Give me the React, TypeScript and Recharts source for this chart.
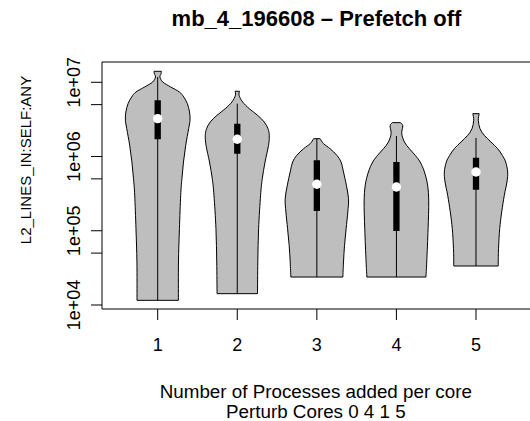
import React from 'react';
import { ComposedChart, XAxis, YAxis, Scatter, ReferenceArea, Label } from 'recharts';

const FONT = "'Liberation Sans', Arial, Helvetica, sans-serif";

const categories = [1, 2, 3, 4, 5];
const xTickLabels = ['1', '2', '3', '4', '5'];
const yTicks = [1e4, 5e4, 1e5, 5e5, 1e6, 5e6, 1e7];
const yTickLabels = ['1e+04', '', '1e+05', '', '1e+06', '', '1e+07'];

const titleText = 'mb_4_196608 \u2013 Prefetch off';
const xTitle1 = 'Number of Processes added per core';
const xTitle2 = 'Perturb Cores 0 4 1 5';
const yTitle = 'L2_LINES_IN:SELF:ANY';

// violin outlines: values (top -> bottom) and half widths (in category units)
const v1Values = [1.406e7, 1.3e7, 1.178e7, 1.009e7, 8.65e6, 7.4e6, 6.34e6, 5.15e6, 3.98e6, 3.08e6, 2.37e6, 1.416e6, 8.43e5, 5.02e5, 3.01e5, 1.067e5, 3.79e4, 1.156e4];
const v1Widths = [0.046, 0.042, 0.028, 0.063, 0.163, 0.273, 0.327, 0.373, 0.4, 0.406, 0.389, 0.352, 0.324, 0.304, 0.289, 0.273, 0.261, 0.26];

const v2Values = [7.57e6, 6.68e6, 5.43e6, 4.41e6, 3.59e6, 2.92e6, 2.37e6, 1.93e6, 1.416e6, 8.43e5, 5.02e5, 3.01e5, 1.067e5, 3.79e4, 1.42e4];
const v2Widths = [0.028, 0.023, 0.067, 0.151, 0.255, 0.339, 0.386, 0.402, 0.393, 0.349, 0.314, 0.293, 0.268, 0.258, 0.254];

const v3Values = [1.738e6, 1.489e6, 1.274e6, 1.04e6, 8.43e5, 6.19e5, 4.1e5, 2.7e5, 1.79e5, 1.067e5, 6.37e4, 3.79e4, 2.38e4];
const v3Widths = [0.041, 0.084, 0.167, 0.251, 0.304, 0.335, 0.371, 0.398, 0.389, 0.368, 0.348, 0.335, 0.327];

const v4Values = [2.86e6, 2.72e6, 2.5e6, 2.03e6, 1.571e6, 1.274e6, 1.04e6, 8.43e5, 6.19e5, 4.1e5, 2.44e5, 1.067e5, 3.79e4, 2.38e4];
const v4Widths = [0.05, 0.072, 0.079, 0.067, 0.1, 0.163, 0.236, 0.298, 0.352, 0.392, 0.406, 0.398, 0.381, 0.371];

const v5Values = [3.78e6, 3.08e6, 2.37e6, 1.93e6, 1.571e6, 1.274e6, 1.04e6, 8.43e5, 6.19e5, 4.54e5, 3.01e5, 1.79e5, 1.067e5, 5.73e4, 3.35e4];
const v5Widths = [0.04, 0.029, 0.05, 0.104, 0.188, 0.273, 0.33, 0.373, 0.398, 0.389, 0.356, 0.323, 0.298, 0.283, 0.279];

// box-plot summaries
const whiskerTops = [1.178e7, 5.15e6, 1.738e6, 1.89e6, 1.78e6];
const q3s = [5.73e6, 2.77e6, 8.89e5, 8.43e5, 9.64e5];
const medians = [3.24e6, 1.71e6, 4.23e5, 3.89e5, 6.19e5];
const q1s = [1.706e6, 1.09e6, 1.846e5, 9.93e4, 3.57e5];

const violinValues = [v1Values, v2Values, v3Values, v4Values, v5Values];
const violinWidths = [v1Widths, v2Widths, v3Widths, v4Widths, v5Widths];

const X_DOMAIN: [number, number] = [0.3, 5.7];
const Y_DOMAIN: [number, number] = [8830, 1.876e7];

type P = { x: number; y: number };

function sidePath(pts: P[], move: boolean) {
  let d = (move ? 'M' : 'L') + pts[0].x + ',' + pts[0].y;
  for (let i = 0; i < pts.length - 1; i++) {
    const p0 = pts[i - 1] || pts[i];
    const p1 = pts[i];
    const p2 = pts[i + 1];
    const p3 = pts[i + 2] || p2;
    const c1x = p1.x + (p2.x - p0.x) / 6;
    const c1y = p1.y + (p2.y - p0.y) / 6;
    const c2x = p2.x - (p3.x - p1.x) / 6;
    const c2y = p2.y - (p3.y - p1.y) / 6;
    d += 'C' + c1x + ',' + c1y + ' ' + c2x + ',' + c2y + ' ' + p2.x + ',' + p2.y;
  }
  return d;
}

const renderViolin = (n: number) => (props: any) => {
  const pts: P[] = props.points || [];
  if (pts.length < 2 * n) return <g />;
  const right = pts.slice(0, n);
  const left = pts.slice(n);
  const d = sidePath(right, true) + sidePath(left, false) + 'Z';
  return <path d={d} fill="#BEBEBE" stroke="#000" strokeWidth={1} strokeLinejoin="round" />;
};

const noShape = () => <g />;

const renderXTick = (props: any) => {
  const { x, y, payload } = props;
  const i = categories.indexOf(payload.value);
  return (
    <text x={x} y={y + 31} textAnchor="middle" fontFamily={FONT} fontSize={18} fill="#000">
      {i >= 0 ? xTickLabels[i] : ''}
    </text>
  );
};

const renderYTick = (props: any) => {
  const { x, y, payload } = props;
  const i = yTicks.indexOf(payload.value);
  const label = i >= 0 ? yTickLabels[i] : '';
  if (!label) return <g />;
  const bx = x - 11;
  return (
    <text x={bx} y={y} transform={`rotate(-90, ${bx}, ${y})`} textAnchor="middle" fontFamily={FONT} fontSize={18} fill="#000">
      {label}
    </text>
  );
};

const renderXLabel = (props: any) => {
  const vb = props.viewBox || {};
  const cx = vb.x + vb.width / 2;
  return (
    <g>
      <text x={cx - 1} y={397.5} textAnchor="middle" fontFamily={FONT} fontSize={18.8} fill="#000">{xTitle1}</text>
      <text x={cx - 1} y={418} textAnchor="middle" fontFamily={FONT} fontSize={18.8} fill="#000">{xTitle2}</text>
    </g>
  );
};

const renderYLabel = () => {
  const bx = 30.5;
  const cy = 160;
  return (
    <text x={bx} y={cy} transform={`rotate(-90, ${bx}, ${cy})`} textAnchor="middle" fontFamily={FONT} fontSize={15} fill="#000">
      {yTitle}
    </text>
  );
};

export default function App() {
  return (
    <div style={{ position: 'absolute', left: 0, top: 0, width: 530, height: 421, overflow: 'hidden', background: '#fff' }}>
      <ComposedChart width={534} height={421} margin={{ top: 62, right: 2.3, left: 42, bottom: 72 }}>
        <XAxis
          type="number"
          dataKey="x"
          domain={X_DOMAIN}
          ticks={categories}
          allowDataOverflow
          axisLine={false}
          tickSize={11}
          tickMargin={0}
          tickLine={{ stroke: '#000' }}
          tick={renderXTick}
          interval={0}
          height={40}
        >
          <Label content={renderXLabel} />
        </XAxis>
        <YAxis
          type="number"
          dataKey="y"
          scale="log"
          domain={Y_DOMAIN}
          ticks={yTicks}
          allowDataOverflow
          axisLine={false}
          tickSize={11}
          tickMargin={0}
          tickLine={{ stroke: '#000' }}
          tick={renderYTick}
          interval={0}
          width={60}
        >
          <Label content={renderYLabel} />
        </YAxis>
        <ReferenceArea
          x1={X_DOMAIN[0]}
          x2={X_DOMAIN[1]}
          y1={Y_DOMAIN[0]}
          y2={Y_DOMAIN[1]}
          fill="none"
          fillOpacity={0}
          stroke="#000"
          strokeWidth={1}
          ifOverflow="visible"
        />
        {categories.map((c, i) => {
          const vals = violinValues[i];
          const ws = violinWidths[i];
          const right = vals.map((v, k) => ({ x: c + ws[k], y: v }));
          const left = vals.map((v, k) => ({ x: c - ws[k], y: v })).reverse();
          return (
            <Scatter
              key={'violin' + c}
              data={[...right, ...left]}
              line={renderViolin(vals.length)}
              shape={noShape}
              isAnimationActive={false}
            />
          );
        })}
        {categories.map((c, i) => (
          <Scatter
            key={'whisker' + c}
            data={[{ x: c, y: whiskerTops[i] }, { x: c, y: violinValues[i][violinValues[i].length - 1] }]}
            line={{ stroke: '#000', strokeWidth: 1 }}
            shape={noShape}
            isAnimationActive={false}
          />
        ))}
        {categories.map((c, i) => (
          <Scatter
            key={'box' + c}
            data={[{ x: c, y: q1s[i] }, { x: c, y: q3s[i] }]}
            line={{ stroke: '#000', strokeWidth: 6.3 }}
            shape={noShape}
            isAnimationActive={false}
          />
        ))}
        {categories.map((c, i) => (
          <Scatter
            key={'median' + c}
            data={[{ x: c, y: medians[i] }]}
            shape={(p: any) => <circle cx={p.cx} cy={p.cy} r={4.7} fill="#fff" />}
            isAnimationActive={false}
          />
        ))}
      </ComposedChart>
      <svg width={530} height={40} style={{ position: 'absolute', left: 0, top: 0, pointerEvents: 'none' }}>
        <text x={316.5} y={26} textAnchor="middle" fontFamily={FONT} fontSize={22} fontWeight="bold" fill="#000">
          {titleText}
        </text>
      </svg>
    </div>
  );
}
